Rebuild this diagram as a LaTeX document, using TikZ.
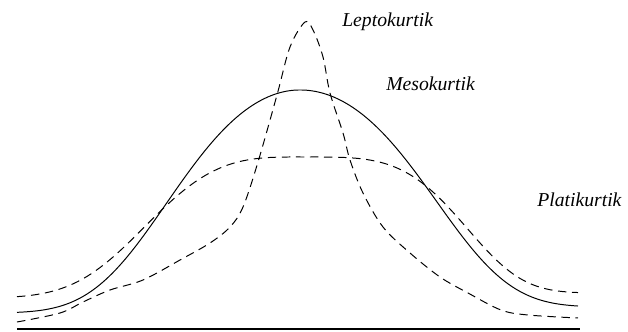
\documentclass[tikz,border=0pt]{standalone}
\usepackage{xcolor}
\usepackage{fontspec}
\setmainfont{Liberation Serif}
\usepackage{tikz}

\begin{document}
\begin{tikzpicture}[x=0.25mm,y=-0.25mm,
  kurva/.style={line width=0.7pt},
  putus/.style={kurva, dash pattern=on 6pt off 4pt},
  label/.style={inner sep=0pt, anchor=west, font=\itshape\fontsize{14}{16}\selectfont}]
\useasboundingbox (0,0) rectangle (628,332);
\draw[line width=1.4pt] (17,329) -- (580,329);
\draw[kurva] plot[domain=17:300, samples=90] (\x,{313-223*exp(-0.304*((300-\x)/100)^2-0.0527*((300-\x)/100)^4)})
  -- plot[domain=300:578, samples=90] (\x,{307-217*exp(-0.304*((\x-300)/103)^2-0.06*((\x-300)/103)^4)});
\draw[putus] plot[domain=17:300, samples=90] (\x,{298-141*exp(-((300.01-\x)/175)^3.2)})
  -- plot[domain=300:578, samples=90] (\x,{293-136*exp(-((\x-300)/180)^4)});
\draw[putus, smooth, tension=0.55] plot coordinates {(17,322) (60,313) (83,302) (110,290) (143,280) (180,260) (210,243) (230,227) (243,207) (258,162) (277,95) (290,47) (305,22) (313,30) (323,57) (330,93) (343,133) (350,160) (363,193) (383,227) (410,253) (440,277) (468,293) (501,310) (528,315) (578,318)};
\node[label] (lepto) at (342,22) {Leptokurtik};
\node[label] (meso) at (386,84) {Mesokurtik};
\node[label] (plati) at (537,200) {Platikurtik};
\end{tikzpicture}
\end{document}
